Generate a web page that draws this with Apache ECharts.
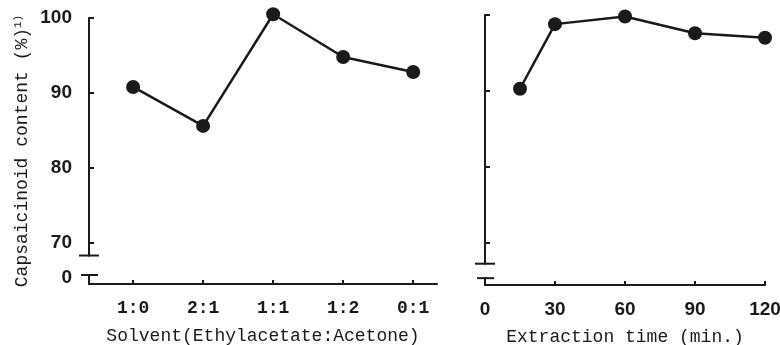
<!DOCTYPE html>
<html>
<head>
<meta charset="utf-8">
<script src="https://cdn.jsdelivr.net/npm/echarts@6/dist/echarts.min.js"></script>
<style>
	html, body { margin: 0; padding: 0; background: #fff; }
	#chart { width: 780px; height: 345px; }
</style>
</head>
<body>
<div id="chart"></div>
<script>
// left panel: solvent ratio
var solventCats = ["1:0", "2:1", "1:1", "1:2", "0:1"];
var solventValues = [90.8, 85.6, 100.5, 94.8, 92.8];
// right panel: extraction time
var timeMinutes = [15, 30, 60, 90, 120];
var timeValues = [90.3, 98.8, 99.8, 97.6, 97.0];
var yTicks = [70, 80, 90, 100];

var yMin = 64.5;
var zeroLabelAt = 65.3; // where "0" sits under the break
var breakLeft = [68.3, 65.7];
var breakRight = [67.3, 65.4];

var black = "#1a1a1a";
var monoFont = "'Liberation Mono', 'DejaVu Sans Mono', monospace";
var sansFont = "'Liberation Sans', Arial, sans-serif";

var chart = echarts.init(document.getElementById('chart'));

function yAxisOpt(showLabels) {
	return {
		type: 'value', min: yMin, max: 100,
		axisLine: { show: true, onZero: false, lineStyle: { color: black, width: 2 } },
		axisTick: { show: true, inside: true, length: 5, customValues: yTicks, lineStyle: { color: black, width: 2 } },
		axisLabel: {
			show: showLabels, customValues: [zeroLabelAt].concat(yTicks), margin: 17,
			color: black, fontFamily: sansFont, fontWeight: 'bold', fontSize: 19,
			formatter: function(v) { return v < 69 ? '0' : String(Math.round(v)); }
		},
		splitLine: { show: false }
	};
}

var option = {
	animation: false,
	backgroundColor: '#fff',
	grid: [
		{ left: 89, right: 343, top: 18, bottom: 61, containLabel: false, outerBoundsMode: 'none' },
		{ left: 485, right: 15, top: 15, bottom: 60, containLabel: false, outerBoundsMode: 'none' }
	],
	xAxis: [{
		gridIndex: 0, type: 'value', min: -0.63, max: 4.34,
		axisLine: { onZero: false, lineStyle: { color: black, width: 2 } },
		axisTick: { inside: true, length: 4, customValues: [0, 1, 2, 3, 4], lineStyle: { color: black, width: 2 } },
		axisLabel: {
			customValues: [0, 1, 2, 3, 4], margin: 15,
			color: black, fontFamily: monoFont, fontWeight: 'bold', fontSize: 18,
			formatter: function(v) { return solventCats[Math.round(v)]; }
		},
		splitLine: { show: false },
		name: 'Solvent(Ethylacetate:Acetone)', nameLocation: 'middle', nameGap: 43,
		nameTextStyle: { color: black, fontFamily: monoFont, fontSize: 18 }
	}, {
		gridIndex: 1, type: 'value', min: 0, max: 120, interval: 30,
		axisLine: { onZero: false, lineStyle: { color: black, width: 2 } },
		axisTick: { inside: true, length: 4, lineStyle: { color: black, width: 2 } },
		axisLabel: {
			margin: 15, hideOverlap: false, showMaxLabel: true, showMinLabel: true,
			color: black, fontFamily: sansFont, fontWeight: 'bold', fontSize: 19
		},
		splitLine: { show: false },
		name: 'Extraction time (min.)', nameLocation: 'middle', nameGap: 43,
		nameTextStyle: { color: black, fontFamily: monoFont, fontSize: 18 }
	}],
	yAxis: [
		Object.assign(yAxisOpt(true), {
			gridIndex: 0,
			name: 'Capsaicinoid content (%){sup|1)}', nameLocation: 'middle', nameRotate: 90, nameGap: 58,
			nameTextStyle: {
				color: black, fontFamily: monoFont, fontSize: 18,
				rich: { sup: { fontFamily: monoFont, fontSize: 11, verticalAlign: 'top', color: black } }
			}
		}),
		Object.assign(yAxisOpt(false), { gridIndex: 1 })
	],
	series: [{
		type: 'line', xAxisIndex: 0, yAxisIndex: 0,
		data: solventCats.map(function(c, i) { return [i, solventValues[i]]; }),
		symbol: 'circle', symbolSize: 14, clip: false,
		lineStyle: { color: black, width: 2.5 },
		itemStyle: { color: black }
	}, {
		type: 'line', xAxisIndex: 1, yAxisIndex: 1,
		data: timeMinutes.map(function(t, i) { return [t, timeValues[i]]; }),
		symbol: 'circle', symbolSize: 14, clip: false,
		lineStyle: { color: black, width: 2.5 },
		itemStyle: { color: black }
	}]
};
chart.setOption(option);

// axis break marks, placed through the axis scales
function breakMarks(gridIndex, xMin, brk) {
	var top = chart.convertToPixel({ gridIndex: gridIndex }, [xMin, brk[0]]);
	var bot = chart.convertToPixel({ gridIndex: gridIndex }, [xMin, brk[1]]);
	var x = top[0];
	return [
		{ type: 'rect', shape: { x: x - 4, y: top[1] + 1, width: 8, height: bot[1] - top[1] - 2 }, style: { fill: '#fff' }, z: 100 },
		{ type: 'line', shape: { x1: x - 10, y1: top[1], x2: x + 10, y2: top[1] }, style: { stroke: black, lineWidth: 2 }, z: 101 },
		{ type: 'line', shape: { x1: x - 8, y1: bot[1], x2: x + 9, y2: bot[1] }, style: { stroke: black, lineWidth: 2 }, z: 101 }
	];
}
chart.setOption({
	graphic: breakMarks(0, -0.63, breakLeft).concat(breakMarks(1, 0, breakRight))
});
</script>
</body>
</html>
